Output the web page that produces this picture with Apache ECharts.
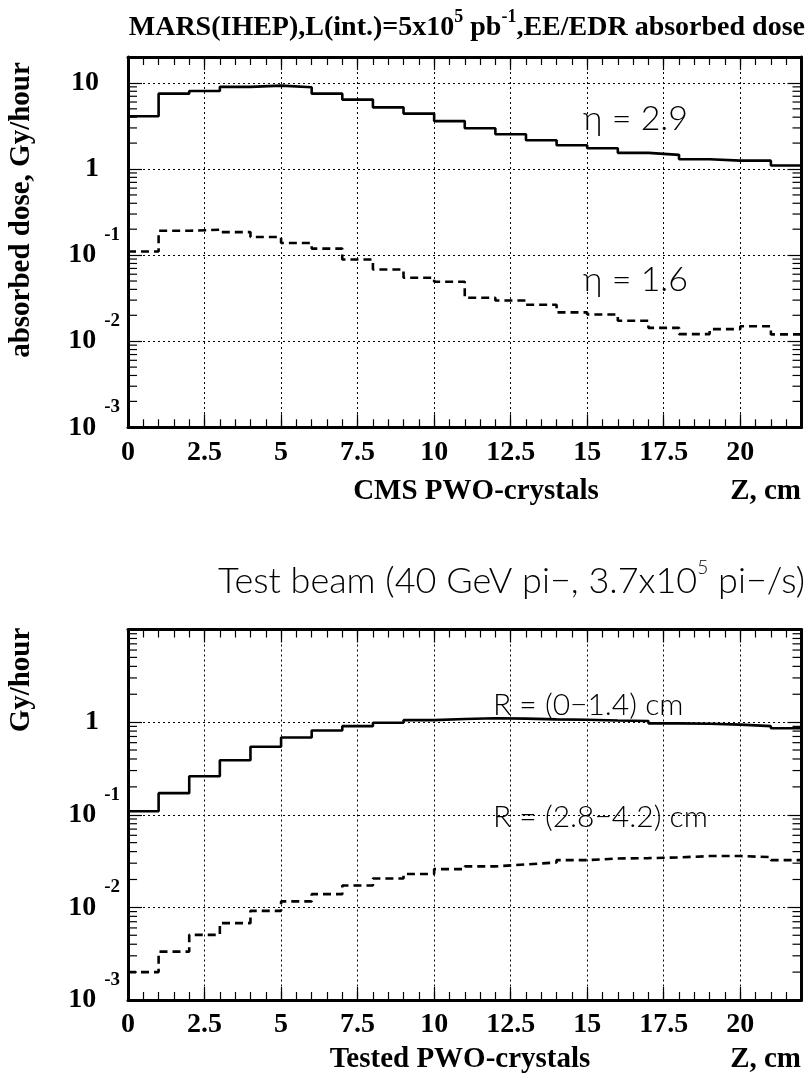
<!DOCTYPE html>
<html><head><meta charset="utf-8">
<script src="https://cdn.jsdelivr.net/npm/echarts@6/dist/echarts.min.js"></script>
<style>html,body{margin:0;padding:0;background:#fff}#c{width:809px;height:1084px}</style>
</head><body><div id="c"></div>
<script>
// ---- data (1 cm bins, Z = 0..22 cm) ----
const binStarts = [0,1,2,3,4,5,6,7,8,9,10,11,12,13,14,15,16,17,18,19,20,21];
const zMax = 22;
const eta29 = [4.1, 7.5, 8.07, 9.0, 9.3, 8.9, 7.5, 6.4, 5.2, 4.4, 3.6, 2.97, 2.53, 2.16, 1.89, 1.74, 1.54, 1.46, 1.30, 1.25, 1.25, 1.10];
const eta16 = [0.110, 0.192, 0.197, 0.185, 0.162, 0.138, 0.119, 0.089, 0.068, 0.0546, 0.049, 0.032, 0.0297, 0.0265, 0.0216, 0.0204, 0.0173, 0.0143, 0.0121, 0.0138, 0.0149, 0.0120];
const rInner = [0.109, 0.171, 0.26, 0.388, 0.542, 0.683, 0.813, 0.905, 0.985, 1.05, 1.08, 1.10, 1.09, 1.07, 1.06, 1.04, 1.03, 0.97, 0.96, 0.94, 0.905, 0.86];
const rOuter = [0.0020, 0.00333, 0.00505, 0.00676, 0.00917, 0.0116, 0.0139, 0.0172, 0.0205, 0.0229, 0.0259, 0.0277, 0.0291, 0.0305, 0.0324, 0.0337, 0.0340, 0.0346, 0.0358, 0.0358, 0.0349, 0.0324];
const xTickStep = 2.5, xMinorStep = 0.5;
const yRangeTop = [0.001, 20];
const yRangeBottom = [0.001, 10];
const minorMult = [2,3,4,5,6,7,8,9];
const minorDecades = [0.001, 0.01, 0.1, 1];

const SERIF = '"Liberation Serif","Times New Roman",serif';
const LIGHT = 'Lato, "Open Sans", "DejaVu Sans", sans-serif';

function hist(vals){ const d = binStarts.map((x,i)=>[x, vals[i]]); d.push([zMax, vals[vals.length-1]]); return d; }
function minorData(){ const out=[]; minorDecades.forEach(d=>minorMult.forEach(m=>out.push([0, d*m]))); return out; }

function yLabFactory(showTen){
  return function(v){
    const l = Math.log10(v), e = Math.round(l);
    if (Math.abs(l-e) > 1e-6) return '';
    if (e === 0) return '{p|1}';
    if (e === 1) return showTen ? '{p|10}' : '';
    return '{b|10}{e|' + e + '}';
  };
}
const yRich = {
  p:{fontSize:28, fontWeight:'bold', fontFamily:SERIF, color:'#000', padding:[0,21,0,0], verticalAlign:'middle'},
  b:{fontSize:28, fontWeight:'bold', fontFamily:SERIF, color:'#000', verticalAlign:'middle'},
  e:{fontSize:19, fontWeight:'bold', fontFamily:SERIF, color:'#000', lineHeight:19, padding:[0,0,40,8], verticalAlign:'middle'}
};

const grids = [
  {left:128, right:7.5, top:57, height:370.3},
  {left:128, right:7.5, top:629.5, height:370.5}
];

const TICK = {color:'#000', width:1.2};
const xAxes = [], yAxes = [];
[0,1].forEach(g=>{
  xAxes.push({type:'value', gridIndex:g, min:0, max:zMax, interval:xTickStep, position:'bottom', z:5,
    axisLine:{show:true, onZero:false, lineStyle:{color:'#000', width:3}},
    axisTick:{show:true, inside:true, length:13, lineStyle:TICK},
    axisLabel:{show:true, showMaxLabel:false, margin:11, color:'#000', fontSize:28, fontWeight:'bold', fontFamily:SERIF},
    splitLine:{show:true, lineStyle:{type:[2,3], color:'#000', width:1}}});
  xAxes.push({type:'value', gridIndex:g, min:0, max:zMax, interval:xMinorStep, position:'bottom', z:5,
    axisLine:{show:false}, axisTick:{show:true, inside:true, length:8, lineStyle:TICK},
    axisLabel:{show:false}, splitLine:{show:false}});
  xAxes.push({type:'value', gridIndex:g, min:0, max:zMax, interval:xTickStep, position:'top', z:5,
    axisLine:{show:true, onZero:false, lineStyle:{color:'#000', width:3}},
    axisTick:{show:true, inside:true, length:13, lineStyle:TICK},
    axisLabel:{show:false}, splitLine:{show:false}});
  xAxes.push({type:'value', gridIndex:g, min:0, max:zMax, interval:xMinorStep, position:'top', z:5,
    axisLine:{show:false}, axisTick:{show:true, inside:true, length:8, lineStyle:TICK},
    axisLabel:{show:false}, splitLine:{show:false}});
  const r = g===0 ? yRangeTop : yRangeBottom;
  yAxes.push({type:'log', logBase:10, gridIndex:g, min:r[0], max:r[1], position:'left', z:5,
    axisLine:{show:true, onZero:false, lineStyle:{color:'#000', width:3}},
    axisTick:{show:true, inside:true, length:14, lineStyle:TICK},
    axisLabel:{show:true, formatter:yLabFactory(g===0), rich:yRich, margin:8},
    splitLine:{show:true, lineStyle:{type:[2,3], color:'#000', width:1}}});
  yAxes.push({type:'log', logBase:10, gridIndex:g, min:r[0], max:r[1], position:'right', z:5,
    axisLine:{show:true, onZero:false, lineStyle:{color:'#000', width:3}},
    axisTick:{show:true, inside:true, length:14, lineStyle:TICK},
    axisLabel:{show:false}, splitLine:{show:false}});
});

function tickSeries(g){
  return {type:'custom', coordinateSystem:'cartesian2d', xAxisIndex:g*4, yAxisIndex:g*2, silent:true, z:6, clip:false,
    data:minorData(), encode:{x:0, y:1},
    renderItem:function(params, api){
      const v = api.value(1);
      const pl = api.coord([0, v]), pr = api.coord([zMax, v]);
      return {type:'group', children:[
        {type:'line', shape:{x1:pl[0], y1:pl[1], x2:pl[0]+9, y2:pl[1]}, style:{stroke:'#000', lineWidth:1.2}},
        {type:'line', shape:{x1:pr[0], y1:pr[1], x2:pr[0]-9, y2:pr[1]}, style:{stroke:'#000', lineWidth:1.2}}
      ]};
    }};
}
function stepSeries(g, vals, dashed){
  return {type:'line', xAxisIndex:g*4, yAxisIndex:g*2, step:'end', symbol:'none', silent:true, z:3,
    data:hist(vals), lineStyle:{color:'#000', width:2.6, type: dashed ? [8,5] : 'solid'}};
}

const titleRich = {
  t:{fontSize:28, fontWeight:'bold', fontFamily:SERIF, color:'#000', verticalAlign:'middle'},
  s:{fontSize:18, fontWeight:'bold', fontFamily:SERIF, color:'#000', lineHeight:18, padding:[0,0,22,0], verticalAlign:'middle'}
};
const title2Rich = {
  t:{fontSize:36, fontWeight:300, fontFamily:LIGHT, color:'#000', verticalAlign:'middle'},
  s:{fontSize:19, fontWeight:300, fontFamily:LIGHT, color:'#000', lineHeight:19, padding:[0,0,26,0], verticalAlign:'middle'}
};
function gtext(x, y, text, font, align, rot){
  return {type:'text', x:x, y:y, rotation:rot||0, silent:true,
    style:{text:text, font:font, fill:'#000', align:align||'left', verticalAlign:'middle', textAlign:align||'left', textVerticalAlign:'middle'}};
}
const BOLD28 = 'bold 29px ' + SERIF;
const LIGHT_ETA = '300 34px ' + LIGHT;
const LIGHT_R = '300 30px ' + LIGHT;

const option = {
  animation:false,
  backgroundColor:'#fff',
  title:[
    {text:'{t|MARS(IHEP),L(int.)=5x10}{s|5}{t| pb}{s|-1}{t|,EE/EDR absorbed dose}', right:4, top:14, padding:0, textStyle:{rich:titleRich}},
    {text:'{t|Test beam (40 GeV pi−, 3.7x10}{s|5}{t| pi−/s)}', right:4, top:563, padding:0, textStyle:{rich:title2Rich}}
  ],
  grid:grids,
  xAxis:xAxes,
  yAxis:yAxes,
  graphic:[
    gtext(22, 210, 'absorbed dose, Gy/hour', BOLD28, 'center', Math.PI/2),
    gtext(22, 680, 'Gy/hour', BOLD28, 'center', Math.PI/2),
    gtext(476, 492, 'CMS PWO-crystals', BOLD28, 'center'),
    gtext(801, 492, 'Z, cm', BOLD28, 'right'),
    gtext(460, 1060, 'Tested PWO-crystals', BOLD28, 'center'),
    gtext(801, 1060, 'Z, cm', BOLD28, 'right'),
    gtext(583, 119, 'η = 2.9', LIGHT_ETA, 'left'),
    gtext(583, 280, 'η = 1.6', LIGHT_ETA, 'left'),
    gtext(493, 705, 'R = (0−1.4) cm', LIGHT_R, 'left'),
    gtext(493, 817, 'R = (2.8−4.2) cm', LIGHT_R, 'left')
  ],
  series:[
    stepSeries(0, eta29, false),
    stepSeries(0, eta16, true),
    stepSeries(1, rInner, false),
    stepSeries(1, rOuter, true),
    tickSeries(0),
    tickSeries(1)
  ]
};
const chart = echarts.init(document.getElementById('c'), null, {renderer:'canvas'});
chart.setOption(option);
</script></body></html>
